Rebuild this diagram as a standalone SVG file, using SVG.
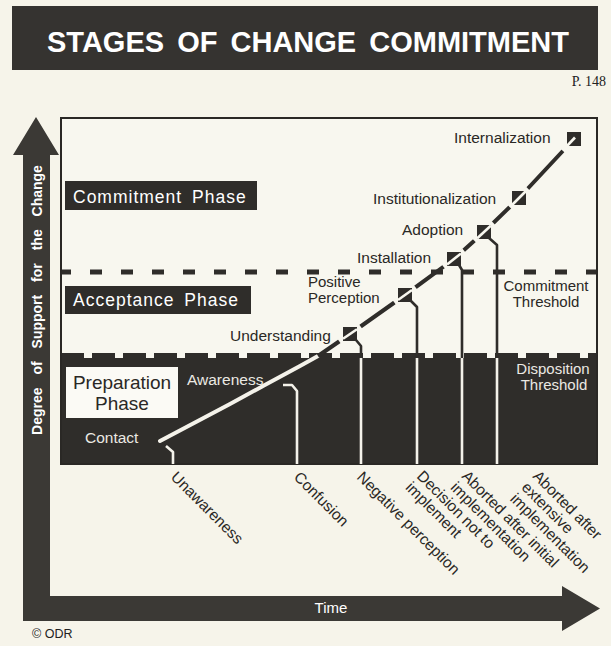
<svg xmlns="http://www.w3.org/2000/svg" width="611" height="646" viewBox="0 0 611 646">
<style>
text{font-family:"Liberation Sans",Arial,sans-serif}
.lbl{font-size:15.5px;fill:#2a2825}
.lbl2{font-size:15px;fill:#2a2825}
.lblw{font-size:15.5px;fill:#ebe9e3}
.lblw2{font-size:15px;fill:#ebe9e3}
.phase{font-size:17.5px;fill:#ffffff;letter-spacing:1px;word-spacing:4px}
.sq{fill:#2f2d2a}
.dk{fill:none;stroke:#2f2d2a;stroke-width:2.6;stroke-linejoin:round}
.wt{fill:none;stroke:#f4f2ea;stroke-width:2.6;stroke-linejoin:round}
.gap{fill:none;stroke:#f8f7ef;stroke-width:6}
.knock{fill:none;stroke:#f8f7ef;stroke-width:2.6}
</style>
<rect x="0" y="0" width="611" height="646" fill="#f6f4ea"/>
<g id="title">
<rect x="12" y="6" width="586" height="64" fill="#353330"/>
<text x="308" y="52" text-anchor="middle" font-size="29" font-weight="bold" fill="#ffffff" word-spacing="5">STAGES OF CHANGE COMMITMENT</text>
</g>
<text x="606" y="86" text-anchor="end" font-size="14" fill="#222" style="font-family:'Liberation Serif','Times New Roman',serif">P. 148</text>
<g id="axes">
<path d="M23,155 L13,155 L36,117 L59,155 L50,155 L50,596 L562,596 L562,586 L600,608.5 L562,631 L562,621 L23,621 Z" fill="#3b3935"/>
<text transform="translate(42,300) rotate(-90)" text-anchor="middle" font-size="14" font-weight="bold" fill="#ffffff" word-spacing="9">Degree of Support for the Change</text>
<text x="331" y="613" text-anchor="middle" font-size="15" fill="#ffffff">Time</text>
</g>
<g id="chart">
<rect x="61" y="118" width="536" height="346" fill="#f8f7ef"/>
<rect x="61" y="358" width="536" height="106" fill="#2f2d2a"/>
<line x1="61" y1="355.5" x2="597" y2="355.5" stroke="#2f2d2a" stroke-width="5" stroke-dasharray="23 8"/>
<line x1="61" y1="272" x2="597" y2="272" stroke="#2f2d2a" stroke-width="5" stroke-dasharray="12 19" stroke-dashoffset="2"/>
<rect x="61" y="118" width="536" height="346" fill="none" stroke="#2a2825" stroke-width="2"/>
</g>
<g id="phase-commitment">
<rect x="65" y="181" width="192" height="29" fill="#2f2d2a"/>
<text class="phase" x="73" y="203">Commitment Phase</text>
</g>
<g id="phase-acceptance">
<rect x="65" y="286" width="186" height="28" fill="#2f2d2a"/>
<text class="phase" x="73" y="306">Acceptance Phase</text>
</g>
<g id="phase-preparation">
<rect x="66" y="367" width="112" height="51" fill="#fbfaf5"/>
<text x="122" y="389" text-anchor="middle" font-size="19" fill="#2a2825">Preparation</text>
<text x="122" y="410" text-anchor="middle" font-size="19" fill="#2a2825">Phase</text>
</g>
<g id="connectors">
<path class="wt" d="M160,441 L230,404 L263,386 L300,366 L318,356" stroke-linecap="round" style="stroke-width:4"/>
<path class="dk" d="M318,356 L350,334 L405,295 L454,259 L484,232 L519,198 L574,139" style="stroke-width:4"/>
<path class="wt" d="M166,446 L173,452 L173,464"/>
<path class="wt" d="M283,385 L292,385 L297,391 L297,464"/>
<path class="dk" d="M356,340 L361,346 L361,358"/>
<path class="wt" d="M361,358 L361,464"/>
<path class="dk" d="M410,300 L417,307 L417,358"/>
<path class="wt" d="M417,358 L417,464"/>
<path class="dk" d="M459,265 L462,270 L462,358"/>
<path class="wt" d="M462,358 L462,464"/>
<path class="dk" d="M489,238 L497,245 L497,358"/>
<path class="wt" d="M497,358 L497,464"/>
</g>
<g id="node-understanding">
<line class="gap" x1="339.3" y1="341.4" x2="360.7" y2="326.6"/>
<rect class="sq" x="343" y="327" width="14" height="14"/>
<line class="knock" x1="343" y1="338.8" x2="357" y2="329.2"/>
<text class="lbl" x="230" y="341">Understanding</text>
</g>
<g id="node-positive-perception">
<line class="gap" x1="394.4" y1="302.6" x2="415.6" y2="287.4"/>
<rect class="sq" x="398" y="288" width="14" height="14"/>
<line class="knock" x1="398" y1="300" x2="412" y2="290"/>
<text class="lbl2" x="308" y="287">Positive</text>
<text class="lbl2" x="308" y="303">Perception</text>
</g>
<g id="node-installation">
<line class="gap" x1="443.8" y1="267.1" x2="464.2" y2="250.9"/>
<rect class="sq" x="447" y="252" width="14" height="14"/>
<line class="knock" x1="447" y1="264.6" x2="461" y2="253.4"/>
<text class="lbl" x="357" y="263">Installation</text>
</g>
<g id="node-adoption">
<line class="gap" x1="474.5" y1="240.9" x2="493.5" y2="223.1"/>
<rect class="sq" x="477" y="225" width="14" height="14"/>
<line class="knock" x1="477" y1="238.5" x2="491" y2="225.5"/>
<text class="lbl" x="402" y="235">Adoption</text>
</g>
<g id="node-institutionalization">
<line class="gap" x1="509.8" y1="207.2" x2="528.2" y2="188.8"/>
<rect class="sq" x="512" y="191" width="14" height="14"/>
<line class="knock" x1="512" y1="205" x2="526" y2="191"/>
<text class="lbl" x="373" y="204">Institutionalization</text>
</g>
<g id="node-internalization">
<line class="gap" x1="563" y1="151" x2="570" y2="143.5"/>
<rect class="sq" x="567" y="132" width="14" height="14"/>
<line class="knock" x1="567" y1="146" x2="575" y2="137.5"/>
<text class="lbl" x="454" y="143">Internalization</text>
</g>
<g id="node-commitment-threshold">
<text class="lbl2" x="546" y="291" text-anchor="middle">Commitment</text>
<text class="lbl2" x="546" y="307" text-anchor="middle">Threshold</text>
</g>
<g id="node-disposition-threshold">
<text class="lblw2" x="553" y="374" text-anchor="middle">Disposition</text>
<text class="lblw2" x="554" y="390" text-anchor="middle">Threshold</text>
</g>
<g id="node-awareness"><text class="lblw" x="187" y="385">Awareness</text></g>
<g id="node-contact"><text class="lblw" x="85" y="443">Contact</text></g>
<g id="node-unawareness"><text class="lbl" transform="translate(170,478) rotate(45)">Unawareness</text></g>
<g id="node-confusion"><text class="lbl" transform="translate(293,478) rotate(45)">Confusion</text></g>
<g id="node-negative-perception"><text class="lbl" transform="translate(356,478) rotate(45)">Negative perception</text></g>
<g id="node-decision"><text class="lbl" transform="translate(416,477) rotate(45)"><tspan x="0" y="0">Decision not to</tspan><tspan x="0" dy="16">implement</tspan></text></g>
<g id="node-aborted-initial"><text class="lbl" transform="translate(461,477) rotate(45)"><tspan x="0" y="0">Aborted after initial</tspan><tspan x="0" dy="16">implementation</tspan></text></g>
<g id="node-aborted-extensive"><text class="lbl" transform="translate(532,477) rotate(45)"><tspan x="0" y="0">Aborted after</tspan><tspan x="0" dy="16">extensive</tspan><tspan x="0" dy="16">implementation</tspan></text></g>
<text x="32" y="638" font-size="12.5" fill="#222">© ODR</text>
</svg>
